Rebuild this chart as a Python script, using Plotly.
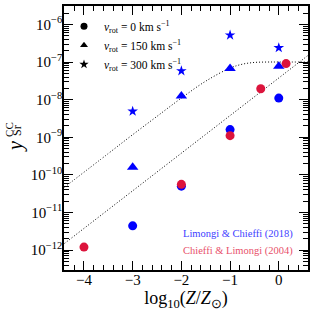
import plotly.graph_objects as go

# Limongi & Chieffi (2018)
lc18_logz = [-3, -2, -1, 0]
lc18_v0 = [4.4e-12, 5.0e-11, 1.6e-9, 1.1e-8]
lc18_v150 = [1.6e-10, 1.25e-8, 6.7e-8, 7.7e-8]
lc18_v300 = [4.9e-9, 5.8e-8, 5.2e-7, 2.4e-7]

# Chieffi & Limongi (2004)
cl04_logz = [-4, -2, -1, -0.37, 0.15]
cl04_y = [1.2e-12, 5.6e-11, 1.1e-9, 1.95e-8, 9.1e-8]

# model curves
lin_x = [-4.4, 0.6]
lin_y = [1.5e-12, 1.5e-7]
sat_x = [-4.4, -3.5, -3.0, -2.5, -2.0, -1.5, -1.0, -0.75, -0.5, -0.25, 0.0, 0.6]
sat_y = [4.7e-11, 3.7e-10, 1.17e-9, 3.6e-9, 1.1e-8, 3.1e-8, 6.9e-8, 8.75e-8,
         9.75e-8, 1.0e-7, 1.0e-7, 1.0e-7]

ytick_vals = [1e-12, 1e-11, 1e-10, 1e-9, 1e-8, 1e-7, 1e-6]
ytick_text = ["10<sup>−12</sup>", "10<sup>−11</sup>", "10<sup>−10</sup>", "10<sup>−9</sup>",
              "10<sup>−8</sup>", "10<sup>−7</sup>", "10<sup>−6</sup>"]
xtick_vals = [-4, -3, -2, -1, 0]
xtick_text = ["−4", "−3", "−2", "−1", "0"]

BLUE = "#0000ff"
RED = "#dc143c"
FONT = "Liberation Serif"

fig = go.Figure()
fig.add_trace(go.Scatter(x=lin_x, y=lin_y, mode="lines", showlegend=False,
                         line=dict(color="black", width=1, dash="1px,2px")))
fig.add_trace(go.Scatter(x=sat_x, y=sat_y, mode="lines", showlegend=False,
                         line=dict(color="black", width=1, dash="1px,2px", shape="spline")))

fig.add_trace(go.Scatter(x=lc18_logz, y=lc18_v0, mode="markers", showlegend=False,
                         marker=dict(symbol="circle", size=9, color=BLUE)))
fig.add_trace(go.Scatter(x=lc18_logz, y=lc18_v150, mode="markers", showlegend=False,
                         marker=dict(symbol="triangle-up", size=10, color=BLUE)))
fig.add_trace(go.Scatter(x=lc18_logz, y=lc18_v300, mode="markers", showlegend=False,
                         marker=dict(symbol="star", size=8, color=BLUE)))
fig.add_trace(go.Scatter(x=cl04_logz, y=cl04_y, mode="markers", showlegend=False,
                         marker=dict(symbol="circle", size=9, color=RED)))

# legend entries
for sym, lab in [("circle", "<i>v</i><sub>rot</sub> = 0 km s<sup>−1</sup>"),
                 ("triangle-up", "<i>v</i><sub>rot</sub> = 150 km s<sup>−1</sup>"),
                 ("star", "<i>v</i><sub>rot</sub> = 300 km s<sup>−1</sup>")]:
    fig.add_trace(go.Scatter(x=[None], y=[None], mode="markers", name=lab,
                             marker=dict(symbol=sym, size=7, color="black")))

fig.add_annotation(xref="paper", yref="paper", x=0.945, y=0.135, xanchor="right",
                   yanchor="middle", showarrow=False, text="Limongi &amp; Chieffi (2018)",
                   font=dict(family=FONT, size=10.5, color="#4040ff"))
fig.add_annotation(xref="paper", yref="paper", x=0.945, y=0.073, xanchor="right",
                   yanchor="middle", showarrow=False, text="Chieffi &amp; Limongi (2004)",
                   font=dict(family=FONT, size=10.5, color="#e8506a"))

# y-axis title: y with stacked CC / Sr
fig.add_annotation(xref="paper", yref="paper", x=-0.199, y=0.468, textangle=-90,
                   xanchor="center", yanchor="middle", showarrow=False,
                   text="<i>y</i>", font=dict(family=FONT, size=20))
fig.add_annotation(xref="paper", yref="paper", x=-0.193, y=0.53, textangle=-90,
                   xanchor="center", yanchor="middle", showarrow=False,
                   text="Sr", font=dict(family=FONT, size=12))
fig.add_annotation(xref="paper", yref="paper", x=-0.228, y=0.532, textangle=-90,
                   xanchor="center", yanchor="middle", showarrow=False,
                   text="CC", font=dict(family=FONT, size=11))

fig.update_layout(
    width=315, height=315,
    margin=dict(l=64, r=7, t=6, b=45, autoexpand=False),
    plot_bgcolor="white", paper_bgcolor="white",
    font=dict(family=FONT, color="black"),
    showlegend=True,
    legend=dict(x=0.0, y=0.978, xanchor="left", yanchor="top",
                bgcolor="rgba(0,0,0,0)", font=dict(family=FONT, size=11.5),
                itemwidth=30, tracegroupgap=0),
)
fig.update_xaxes(
    range=[-4.41, 0.6], tickvals=xtick_vals, ticktext=xtick_text, automargin=False,
    ticks="inside", ticklen=9, tickwidth=1.2, tickcolor="black",
    minor=dict(ticks="inside", ticklen=5, dtick=0.2, tick0=0, tickcolor="black", tickwidth=1),
    showline=True, linecolor="black", linewidth=1.5, mirror="ticks",
    showgrid=False, zeroline=False, tickfont=dict(size=15), ticklabelstandoff=-5,
    title=dict(text="log<sub>10</sub>(<i>Z</i>/<i>Z</i><sub>⊙</sub>)", font=dict(size=18), standoff=0),
)
fig.update_yaxes(
    type="log", range=[-12.53, -5.51], tickvals=ytick_vals, ticktext=ytick_text, automargin=False,
    ticks="inside", ticklen=9, tickwidth=1.2, tickcolor="black",
    minor=dict(ticks="inside", ticklen=5, dtick="D1", tickcolor="black", tickwidth=1),
    showline=True, linecolor="black", linewidth=1.5, mirror="ticks",
    showgrid=False, zeroline=False, tickfont=dict(size=15), ticklabelstandoff=-3,
)

fig.write_html("out.html", post_script="document.body.style.margin='0';",
               config={"displayModeBar": False})
